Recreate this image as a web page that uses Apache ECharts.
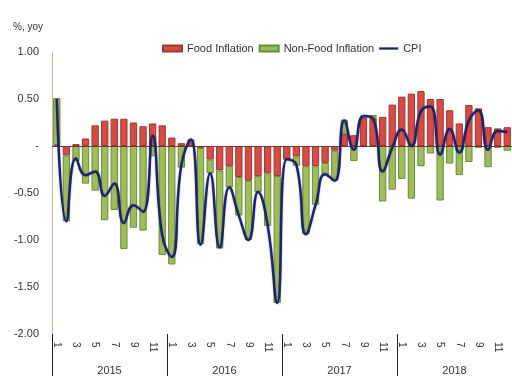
<!DOCTYPE html>
<html>
<head>
<meta charset="utf-8">
<script src="https://cdn.jsdelivr.net/npm/echarts@6/dist/echarts.min.js"></script>
<style>html,body{margin:0;padding:0;background:#fff;}#c{width:512px;height:376px;}</style>
</head>
<body>
<div id="c"></div>
<script>
var years = ['2015', '2016', '2017', '2018'];
var months = [1,2,3,4,5,6,7,8,9,10,11,12];
var foodInflation = [
  0.01, -0.10, 0.02, 0.08, 0.22, 0.27, 0.29, 0.29, 0.25, 0.21, 0.24, 0.22,
  0.09, 0.03, 0.04, -0.02, -0.145, -0.26, -0.215, -0.33, -0.37, -0.32, -0.29, -0.32,
  -0.14, -0.11, -0.215, -0.215, -0.18, -0.05, 0.13, 0.115, 0.30, 0.30, 0.31, 0.44,
  0.525, 0.557, 0.585, 0.50, 0.50, 0.38, 0.24, 0.436, 0.40, 0.20, 0.187, 0.20
];
var nonFoodInflation = [
  0.50, -0.70, -0.16, -0.40, -0.475, -0.79, -0.68, -1.095, -0.87, -0.90, -0.11, -1.16,
  -1.26, -0.23, 0.03, -1.025, -0.145, -0.83, -0.225, -0.41, -0.63, -0.17, -0.56, -1.35,
  -0.01, -0.10, -0.72, -0.41, -0.125, -0.32, 0.15, -0.16, 0.02, 0.03, -0.59, -0.465,
  -0.35, -0.56, -0.215, -0.08, -0.58, -0.187, -0.31, -0.17, -0.02, -0.225, -0.02, -0.05
];
var cpi = [
  0.50, -0.80, -0.13, -0.31, -0.27, -0.53, -0.40, -0.82, -0.63, -0.70, 0.11, -0.95,
  -1.18, -0.20, 0.07, -1.05, -0.29, -1.08, -0.44, -0.74, -1.00, -0.49, -0.84, -1.67,
  -0.14, -0.20, -0.94, -0.63, -0.30, -0.37, 0.27, -0.04, 0.32, 0.29, -0.27, -0.02,
  0.175, 0.0, 0.37, 0.42, -0.09, 0.18, -0.07, 0.27, 0.38, -0.04, 0.16, 0.15
];

var categories = [];
years.forEach(function (y) { months.forEach(function (m) { categories.push(y + '-' + m); }); });

var chart = echarts.init(document.getElementById('c'), null, {renderer: 'canvas'});
var font = 'Liberation Sans, Arial, sans-serif';
chart.setOption({
  animation: false,
  textStyle: {fontFamily: font},
  graphic: [{
    type: 'text', left: 13, top: 22,
    style: {text: '%, yoy', fontSize: 10, fill: '#333', fontFamily: font}
  }],
  legend: {
    top: 38, left: 157, itemWidth: 19, itemHeight: 6, itemGap: 5,
    textStyle: {fontSize: 11, color: '#333', fontFamily: font},
    data: [
      {name: 'Food Inflation', icon: 'rect'},
      {name: 'Non-Food Inflation', icon: 'rect'},
      {name: 'CPI', icon: 'path://M0,0 L20,0 L20,2.4 L0,2.4 Z', itemStyle: {color: '#1c2467', borderWidth: 0}}
    ]
  },
  grid: {left: 52, right: -12, top: 52, bottom: 42, containLabel: false},
  xAxis: [{
    type: 'category', data: categories, position: 'bottom',
    axisLine: {show: false, onZero: false},
    axisTick: {show: false},
    axisLabel: {
      interval: 0, rotate: -90, margin: 8, fontSize: 10, color: '#333', fontFamily: font,
      formatter: function (v) { var m = parseInt(v.split('-')[1], 10); return m % 2 === 1 ? String(m) : ''; }
    }
  }, {
    type: 'category', data: years, position: 'bottom',
    axisLine: {show: false, onZero: false},
    axisTick: {show: true, length: 42, lineStyle: {color: '#222', width: 1}},
    axisLabel: {margin: 31, fontSize: 11, color: '#333', fontFamily: font}
  }],
  yAxis: {
    type: 'value', min: -2, max: 1, interval: 0.5,
    axisLine: {show: true, lineStyle: {color: '#c4bd9f', width: 1}},
    axisTick: {show: false},
    splitLine: {show: false},
    axisLabel: {
      margin: 13, fontSize: 11, color: '#333', fontFamily: font,
      formatter: function (v) { return Math.abs(v) < 1e-9 ? '-' : v.toFixed(2); }
    }
  },
  series: [{
    name: 'Food Inflation', type: 'bar', stack: 'infl', data: foodInflation,
    barWidth: '76%',
    itemStyle: {color: '#d64c45', borderColor: '#9c3631', borderWidth: 1},
    markLine: {
      silent: true, symbol: 'none', label: {show: false},
      lineStyle: {color: '#6e3a2c', width: 1, type: 'solid'},
      data: [{yAxis: 0}], z: 5
    }
  }, {
    name: 'Non-Food Inflation', type: 'bar', stack: 'infl', data: nonFoodInflation,
    barWidth: '76%',
    itemStyle: {color: '#9dbd5b', borderColor: '#6d8a3a', borderWidth: 1}
  }, {
    name: 'CPI', type: 'line', data: cpi, smooth: 0.5, symbol: 'none', z: 10,
    lineStyle: {color: '#1c2467', width: 2.5, shadowColor: 'rgba(20,30,110,0.35)', shadowBlur: 2}
  }]
});
</script>
</body>
</html>
